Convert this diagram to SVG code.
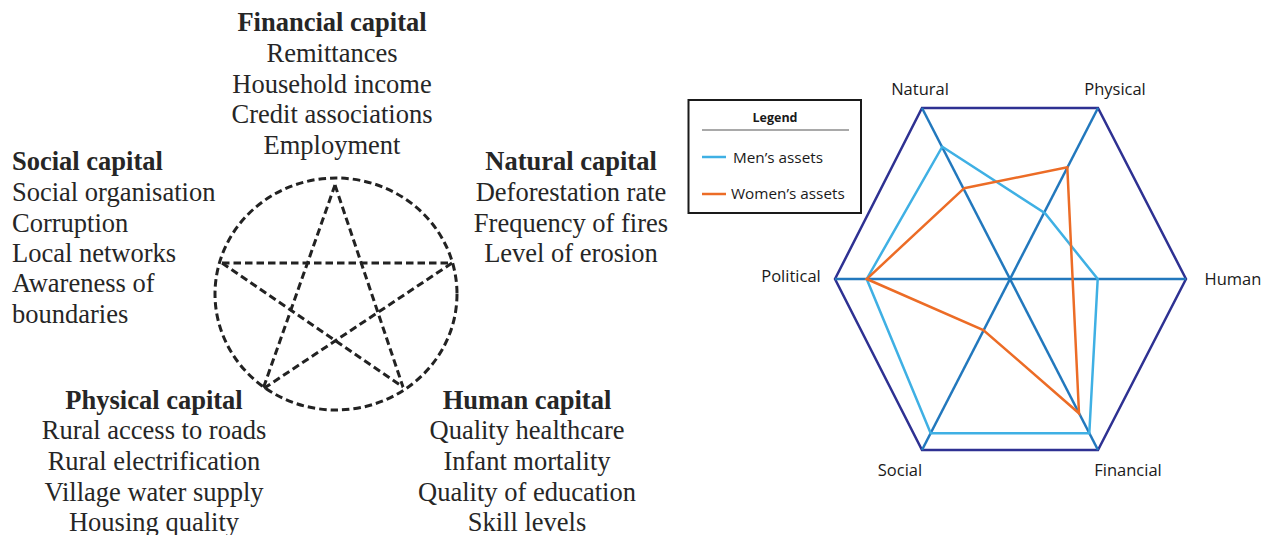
<svg xmlns="http://www.w3.org/2000/svg" width="1269" height="535" viewBox="0 0 1269 535">
<style>
.t{font-family:"Liberation Serif","Times New Roman",serif;font-size:26.5px;fill:#262626}
.b{font-weight:bold}
.m{text-anchor:middle}
.d{fill:none;stroke:#222;stroke-width:3;stroke-dasharray:7.5 4}
.s{font-family:"Open Sans","Noto Sans",sans-serif;font-size:16.5px;fill:#1a1a1a}
.hex{fill:none;stroke:#2e3192;stroke-width:2.5}
.spoke{stroke:#2278bd;stroke-width:2.5}
.men{fill:none;stroke:#3fb0e4;stroke-width:2.5}
.wom{fill:none;stroke:#ec6c26;stroke-width:2.5}
</style>
<rect width="1269" height="535" fill="#fff"/>
<g id="pentagon-diagram">
  <ellipse class="d" cx="336" cy="294" rx="121" ry="116"/>
  <g id="star">
    <line class="d" x1="335" y1="185" x2="263" y2="389"/>
    <line class="d" x1="335" y1="185" x2="403" y2="387"/>
    <line class="d" x1="222" y1="263" x2="452" y2="263"/>
    <line class="d" x1="222" y1="263" x2="403" y2="387"/>
    <line class="d" x1="452" y1="263" x2="263" y2="389"/>
  </g>
</g>
<g id="financial-capital" class="t m">
  <text x="332" y="31" class="b">Financial capital</text>
  <text x="332" y="62">Remittances</text>
  <text x="332" y="93">Household income</text>
  <text x="332" y="123">Credit associations</text>
  <text x="332" y="154">Employment</text>
</g>
<g id="social-capital" class="t">
  <text x="12" y="170" class="b">Social capital</text>
  <text x="12" y="201">Social organisation</text>
  <text x="12" y="232">Corruption</text>
  <text x="12" y="262">Local networks</text>
  <text x="12" y="292">Awareness of</text>
  <text x="12" y="323">boundaries</text>
</g>
<g id="natural-capital" class="t m">
  <text x="571" y="170" class="b">Natural capital</text>
  <text x="571" y="201">Deforestation rate</text>
  <text x="571" y="232">Frequency of fires</text>
  <text x="571" y="262">Level of erosion</text>
</g>
<g id="physical-capital" class="t m">
  <text x="154" y="409" class="b">Physical capital</text>
  <text x="154" y="439">Rural access to roads</text>
  <text x="154" y="470">Rural electrification</text>
  <text x="154" y="501">Village water supply</text>
  <text x="154" y="531">Housing quality</text>
</g>
<g id="human-capital" class="t m">
  <text x="527" y="409" class="b">Human capital</text>
  <text x="527" y="439">Quality healthcare</text>
  <text x="527" y="470">Infant mortality</text>
  <text x="527" y="501">Quality of education</text>
  <text x="527" y="531">Skill levels</text>
</g>
<g id="radar-chart">
  <polygon class="hex" points="922,108 1098,108 1186,279 1098,450 922,450 835,279"/>
  <g id="spokes">
    <line class="spoke" x1="922" y1="108" x2="1098" y2="450"/>
    <line class="spoke" x1="1098" y1="108" x2="922" y2="450"/>
    <line class="spoke" x1="835" y1="279" x2="1186" y2="279"/>
  </g>
  <polygon id="mens-assets" class="men" points="942.3,146.7 1045,213.3 1097.7,279 1089.3,433.3 930.7,433.3 866.7,279"/>
  <polygon id="womens-assets" class="wom" points="964,188.3 1067.3,167.3 1079,413.3 983.3,330 866.7,279"/>
</g>
<g id="axis-labels" class="s m">
  <text x="920" y="95">Natural</text>
  <text x="1115" y="95">Physical</text>
  <text x="1233" y="285">Human</text>
  <text x="791" y="282">Political</text>
  <text x="900" y="476">Social</text>
  <text x="1128" y="476">Financial</text>
</g>
<g id="legend">
  <rect x="688.5" y="100" width="172.5" height="113" fill="#fff" stroke="#1a1a1a" stroke-width="2"/>
  <text x="775" y="122" class="s m" style="font-weight:bold;font-size:12.5px">Legend</text>
  <line x1="702" y1="130" x2="849" y2="130" stroke="#555" stroke-width="1.2"/>
  <line x1="702" y1="157" x2="726" y2="157" class="men"/>
  <text x="733" y="163" class="s" style="font-size:15.3px">Men’s assets</text>
  <line x1="702" y1="194" x2="726" y2="194" class="wom"/>
  <text x="731" y="199" class="s" style="font-size:15.3px">Women’s assets</text>
</g>
</svg>
